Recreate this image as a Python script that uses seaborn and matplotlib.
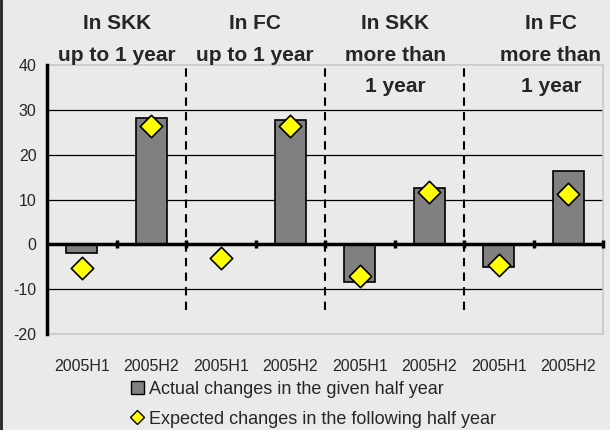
import numpy as np
import pandas as pd
import matplotlib
matplotlib.use("Agg")
import matplotlib.pyplot as plt
from matplotlib.lines import Line2D
from matplotlib.patches import Patch
import seaborn as sns

sns.set_style("white")
plt.rcParams['font.family'] = ['Liberation Sans', 'DejaVu Sans']
plt.rcParams['axes.unicode_minus'] = False

# data
groups = ["In SKK\nup to 1 year", "In FC\nup to 1 year", "In SKK\nmore than\n1 year", "In FC\nmore than\n1 year"]
periods = ["2005H1", "2005H2"] * 4
cat_keys = ["skk1_h1", "skk1_h2", "fc1_h1", "fc1_h2", "skk2_h1", "skk2_h2", "fc2_h1", "fc2_h2"]
actual = [-2.0, 28.2, 0.0, 27.7, -8.3, 12.6, -5.0, 16.4]
expected = [-5.3, 26.3, -3.0, 26.3, -7.0, 11.7, -4.5, 11.2]

df = pd.DataFrame({"cat": cat_keys, "actual": actual, "expected": expected})

bg = "#EAEAEA"
fig = plt.figure(figsize=(6.1, 4.3), dpi=100, facecolor=bg)
ax = fig.add_axes([47 / 610, 1 - 334 / 430, 556 / 610, 269 / 430])
ax.set_facecolor(bg)

sns.barplot(data=df, x="cat", y="actual", order=cat_keys, color="#808080",
            edgecolor="black", linewidth=1.2, width=0.45, saturation=1, ax=ax, zorder=3)
sns.scatterplot(data=df, x="cat", y="expected", marker="D", s=130, color="#FFFF00",
                edgecolor="black", linewidth=1.2, ax=ax, zorder=4, legend=False)

ax.set_xlim(-0.5, 7.5)
ax.set_ylim(-20, 40)
ax.set_yticks(range(-20, 41, 10))
ax.tick_params(axis="y", direction="out", length=4.5, width=2, labelsize=11.5, pad=3)

# gridlines
for v in [-10, 10, 20, 30]:
    ax.axhline(v, color="black", lw=0.9, zorder=1)
ax.axhline(0, color="black", lw=2.5, zorder=5)

for side in ["top", "right", "bottom"]:
    ax.spines[side].set_color("#C8C8C8")
    ax.spines[side].set_linewidth(1.2)
ax.spines["left"].set_color("black")
ax.spines["left"].set_linewidth(2.5)
ax.spines["left"].set_zorder(6)

# category boundary ticks on zero line
bounds = np.arange(len(cat_keys)) + 0.5
ax.plot(bounds, np.zeros(len(bounds)), ls="none", marker="|", ms=6, mew=2.5,
        color="black", zorder=5, clip_on=False)

# group separators
for b in [1.5, 3.5, 5.5]:
    ax.axvline(b, ymin=0.09, ymax=1.0, color="black", lw=1.5, ls=(0, (4, 3)), zorder=2, clip_on=False)

# period labels
ax.set_xticks(np.arange(len(periods)))
ax.set_xticklabels(periods, fontsize=11.5)
ax.tick_params(axis="x", length=0, pad=18)
ax.set_xlabel("")
ax.set_ylabel("")

# group headers
header_x = [117, 255, 395, 551]
for gx, txt in zip(header_x, groups):
    fig.text(gx / 610, 1 - 14 / 430, txt, ha="center", va="top", fontsize=15,
             fontweight="bold", linespacing=1.85)

# legend
handles = [Patch(facecolor="#808080", edgecolor="black", label="Actual changes in the given half year"),
           Line2D([], [], ls="none", marker="D", ms=7.5, markerfacecolor="#FFFF00",
                  markeredgecolor="black", label="Expected changes in the following half year")]
fig.legend(handles=handles, loc="upper left", bbox_to_anchor=(131 / 610, 1 - 381 / 430),
           frameon=False, fontsize=13, handlelength=0.7, handleheight=0.7, handletextpad=0.3,
           labelspacing=0.7, borderaxespad=0, borderpad=0)

fig.add_artist(Line2D([0.0015, 0.0015], [0, 1], transform=fig.transFigure, color="#222222", lw=2))

fig.savefig("out.png", dpi=100, facecolor=bg)
